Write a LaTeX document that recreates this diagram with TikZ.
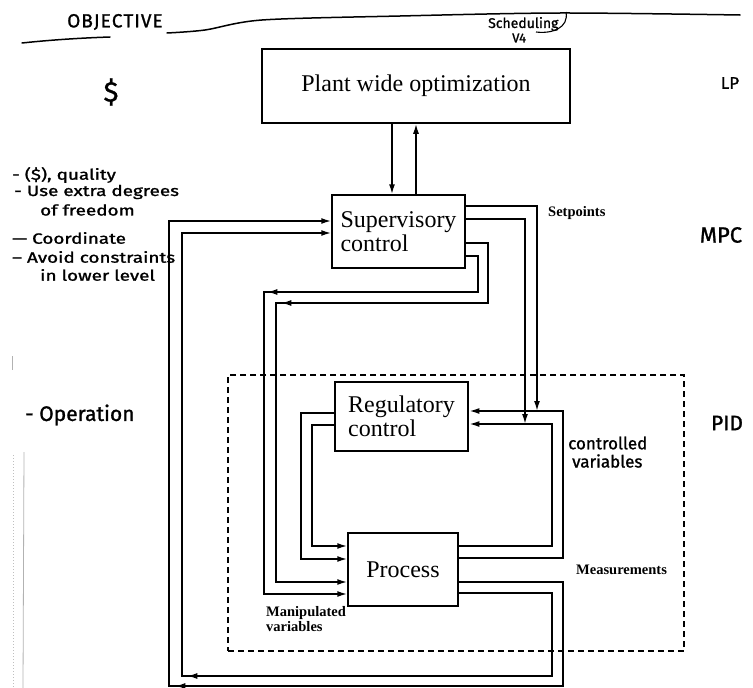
\documentclass[tikz,border=0pt]{standalone}
\usepackage{fontspec}
\setmainfont{Liberation Serif}
\newfontfamily\hand[FakeBold=1.2]{Fira Sans}
\usetikzlibrary{arrows.meta,decorations.markings,calc}
\newcommand{\squash}[1]{\scalebox{1.08}[0.85]{#1}}
\begin{document}
\begin{tikzpicture}[x=1pt,y=-1pt,
  box/.style={draw,line width=1.5pt,inner sep=0pt,align=left,font=\fontsize{24}{23.5}\selectfont},
  ln/.style={line width=1.6pt},
  arr/.style={ln,-{Latex[length=10pt,width=6pt]}},
  midarr/.style={postaction={decorate},decoration={markings,mark=at position #1 with {\arrow{Latex[length=10pt,width=6pt]}}}},
  lab/.style={font=\fontsize{14.5}{15}\selectfont\bfseries,inner sep=0pt,align=left},
  hw/.style={font=\hand\fontsize{18.5}{20}\selectfont,inner sep=0pt,anchor=west},
  hwl/.style={font=\hand\fontsize{17.5}{18}\selectfont,inner sep=0pt,anchor=west},
  hwline/.style={line width=1.5pt,line cap=round}
]
\useasboundingbox (0,0) rectangle (753,688);

% PID dashed frame
\node[draw,line width=1.3pt,dash pattern=on 6pt off 4pt,minimum width=456pt,minimum height=276pt,inner sep=0pt] (pidbox) at (456,513) {};

% boxes
\node[box,minimum width=308pt,minimum height=74pt,align=center] (plant) at (416,86) {Plant wide optimization};
\node[box,minimum width=133pt,minimum height=73pt] (sup) at (398.5,231.5) {Supervisory\\control};
\node[box,line width=2.8pt,minimum width=133pt,minimum height=69pt] (reg) at (401.5,416.5) {Regulatory\\control};
\node[box,minimum width=110pt,minimum height=73pt] (proc) at (403,569.5) {Process};

% plant <-> supervisory
\coordinate (dn) at ($(plant.south)+(-24,0)$);
\draw[arr] (dn) -- (dn |- sup.north);
\draw[arr] (plant.south |- sup.north) -- (plant.south);

% setpoints
\coordinate (j1) at (537,411);
\coordinate (j2) at (525,424);
\draw[arr] (sup.east |- 0,206) -| (j1);
\draw[arr] (sup.east |- 0,219) -| (j2);

% supervisory -> process (manipulated variables)
\draw[arr,midarr=289pt] (sup.east |- 0,243) -| (488,303) -- (276,303) |- (proc.west |- 0,582);
\draw[arr,midarr=259pt] (sup.east |- 0,256) -| (478,292) -- (264,292) |- (proc.west |- 0,594);

% regulatory -> process
\draw[arr] (reg.west |- 0,413) -| (301,559) -- (proc.west |- 0,559);
\draw[arr] (reg.west |- 0,425) -| (312,546) -- (proc.west |- 0,546);

% process -> regulatory (controlled variables)
\draw[arr] (proc.east |- 0,546) -| (552,424) -- (reg.east |- 0,424);
\draw[arr] (proc.east |- 0,558) -| (563,411) -- (reg.east |- 0,411);

% process -> supervisory (measurements)
\draw[arr,midarr=596pt] (proc.east |- 0,582) -| (563,686) -- (169,686) |- (sup.west |- 0,221);
\draw[arr,midarr=541pt] (proc.east |- 0,593) -| (552,676) -- (182,676) |- (sup.west |- 0,233);

% printed labels
\node[lab,anchor=west] (sp) at (548,213) {Setpoints};
\node[lab,anchor=west] (meas) at (576,570) {Measurements};
\node[lab,anchor=north west] (mv) at (266,606) {Manipulated\\variables};

% handwritten annotations
\node[hw,font=\hand\fontsize{19}{20}\selectfont] (obj) at (67,22) {O\kern1pt B\kern1pt J\kern1pt E\kern1pt C\kern1pt T\kern1pt I\kern1pt V\kern1pt E};
\draw[hwline] (22,43) .. controls (50,40) and (80,38) .. (110,37);
\draw[hwline] plot[smooth] coordinates {(167,33) (205,30) (262,20) (400,16) (560,13) (740,15)};
\node[hw,font=\hand\fontsize{14}{14}\selectfont] (sched) at (488,24) {Scheduling};
\draw[line width=1.1pt] (566,12) .. controls (569,28) and (552,34) .. (536,32);
\node[hw,font=\hand\fontsize{13}{13}\selectfont] (v4) at (512,38) {V4};
\node[hw,font=\hand\fontsize{28}{28}\selectfont,anchor=center] (dollar) at (111,92) {\$};
\node[hwl] (a1) at (12,175) {\squash{- (\$), quality}};
\node[hwl] (a2) at (14,192) {\squash{- Use extra degrees}};
\node[hwl] (a3) at (40,210) {\squash{of freedom}};
\node[hwl] (a4) at (12,238) {\squash{— Coordinate}};
\node[hwl] (a5) at (12,257) {\squash{– Avoid constraints}};
\node[hwl] (a6) at (40,275) {\squash{in lower level}};
\node[hw,font=\hand\fontsize{21}{22}\selectfont] (a7) at (25,415) {- Operation};
\node[hw,anchor=center,font=\hand\fontsize{17}{18}\selectfont] (lp) at (730,83) {LP};
\node[hw,anchor=center,font=\hand\fontsize{22}{22}\selectfont] (mpc) at (721,235) {MPC};
\node[hw,anchor=center,font=\hand\fontsize{21}{22}\selectfont] (pid) at (727,423) {PID};
\node[hw,font=\hand\fontsize{17}{18}\selectfont] (cv1) at (568,443) {controlled};
\node[hw,font=\hand\fontsize{17}{18}\selectfont] (cv2) at (572,461) {variables};

% scan marks at left edge
\draw[gray!60,line width=0.8pt] (24,452) -- (23,688);
\draw[gray!50,dotted,line width=1pt] (13,455) -- (13,688);
\draw[gray!60,line width=1pt] (12,356) -- (12,370);
\end{tikzpicture}
\end{document}
